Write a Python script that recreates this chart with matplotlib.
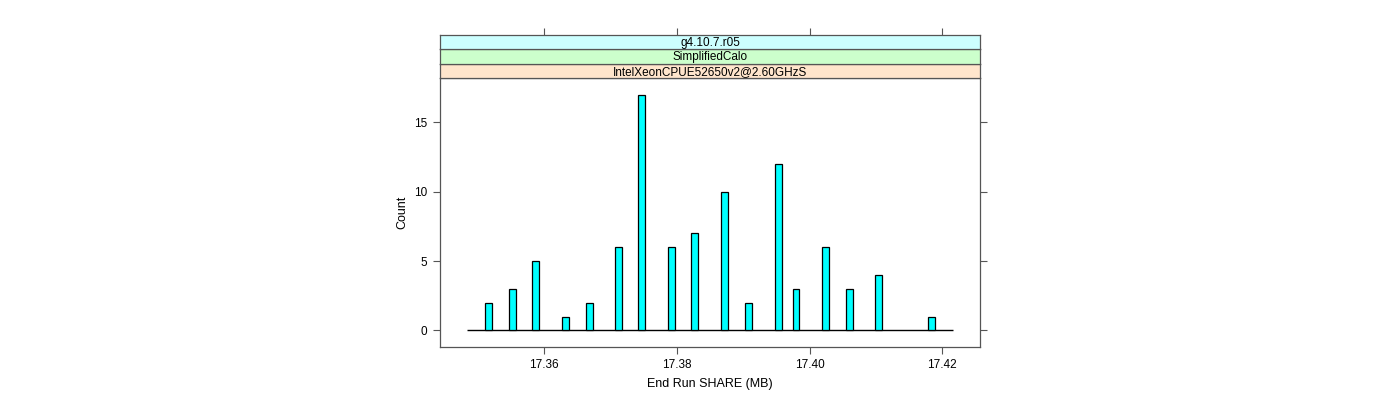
import matplotlib
matplotlib.use("Agg")
import matplotlib.pyplot as plt

# histogram bins (centers, MB) and counts
centers = [17.3516, 17.3552, 17.3587, 17.3632, 17.3668, 17.3712, 17.3747,
           17.3792, 17.3827, 17.3872, 17.3908, 17.3953, 17.3980, 17.4024,
           17.4060, 17.4104, 17.4184]
counts = [2, 3, 5, 1, 2, 6, 17, 6, 7, 10, 2, 12, 3, 6, 3, 4, 1]
hist_range = [17.3484, 17.4216]
bin_width = 0.00098

strips = ["IntelXeonCPUE52650v2@2.60GHzS", "SimplifiedCalo", "g4.10.7.r05"]
strip_colors = ["#FFE5CC", "#CCFFCC", "#CCFFFF"]

xticks = [17.36, 17.38, 17.40, 17.42]
xlim = (17.3443, 17.4257)
ylim = (-1.19, 18.19)
frame = "#555555"

plt.rcParams['font.family'] = ['Liberation Sans', 'DejaVu Sans']

fig = plt.figure(figsize=(14, 4), dpi=100)
W, H = 1400, 400
left, right = 440 / W, 980 / W
bottom, top = 1 - 347 / H, 1 - 78 / H

ax = fig.add_axes([left, bottom, right - left, top - bottom])
ax.hlines(0, hist_range[0], hist_range[1], color="black", lw=1, zorder=2)
ax.bar(centers, counts, width=bin_width, color="#00FFFF", edgecolor="black",
       linewidth=0.9, zorder=3)
ax.set_xlim(*xlim)
ax.set_ylim(*ylim)
ax.set_xticks(xticks)
ax.set_xticklabels(["%.2f" % t for t in xticks])
ax.set_yticks([0, 5, 10, 15])
ax.tick_params(direction="out", length=5, width=0.8, color=frame,
               labelsize=8.5, right=True, pad=4)
for s in ax.spines.values():
    s.set_color(frame)
    s.set_linewidth(0.9)
ax.set_xlabel("End Run SHARE (MB)", fontsize=9, labelpad=5)
ax.set_ylabel("Count", fontsize=9, labelpad=4)

# strips stacked above the panel
sh = 14.5 / H
for i, (lab, col) in enumerate(zip(strips, strip_colors)):
    sax = fig.add_axes([left, top + i * sh, right - left, sh])
    sax.set_facecolor(col)
    sax.set_xlim(*xlim)
    sax.set_ylim(0, 1)
    sax.text(0.5, 0.42, lab, transform=sax.transAxes, ha="center",
             va="center", fontsize=8.5)
    for s in sax.spines.values():
        s.set_color(frame)
        s.set_linewidth(0.9)
    sax.set_yticks([])
    if i == len(strips) - 1:
        sax.set_xticks(xticks)
        sax.xaxis.tick_top()
        sax.tick_params(direction="out", length=5, width=0.8, color=frame,
                        labeltop=False)
    else:
        sax.set_xticks([])

fig.savefig("out.png", dpi=100)
